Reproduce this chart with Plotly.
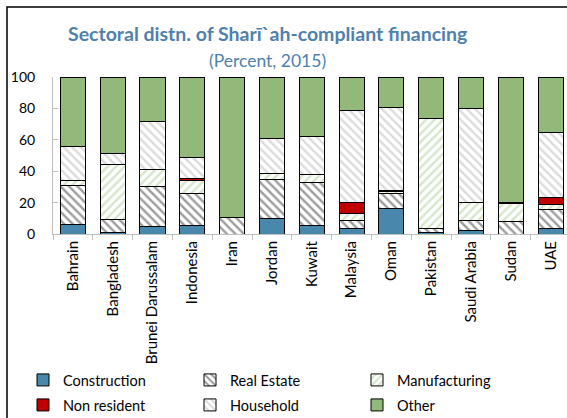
import plotly.graph_objects as go

countries = ["Bahrain", "Bangladesh", "Brunei Darussalam", "Indonesia", "Iran", "Jordan",
             "Kuwait", "Malaysia", "Oman", "Pakistan", "Saudi Arabia", "Sudan", "UAE"]

construction = [6.0, 1.0, 5.0, 5.5, 0.0, 10.0, 5.3, 3.8, 16.5, 0.8, 2.5, 0.0, 3.2]
real_estate  = [25.0, 8.0, 25.5, 20.5, 10.4, 25.0, 27.7, 4.9, 9.1, 3.0, 6.2, 8.0, 12.2]
manufacturing = [3.0, 35.5, 10.6, 8.2, 0.0, 3.6, 5.0, 4.2, 1.5, 69.8, 11.6, 11.2, 3.4]
non_resident = [0.0, 0.0, 0.0, 1.0, 0.0, 0.0, 0.0, 7.2, 0.9, 0.0, 0.0, 0.0, 4.2]
household    = [21.8, 6.6, 30.7, 13.3, 0.0, 22.0, 24.0, 58.5, 52.5, 0.0, 59.6, 0.9, 41.5]
other        = [44.2, 48.9, 28.2, 51.5, 89.6, 39.4, 38.0, 21.4, 19.5, 26.4, 20.1, 79.9, 35.5]

FONT = "Lato"
fig = go.Figure()

series = [
    ("Construction", construction, dict(color="#4A87AD"), "legend"),
    ("Real Estate", real_estate, dict(color="white", pattern=dict(shape="\\", fgcolor="#3A3A3A", bgcolor="white", size=6, solidity=0.4)), "legend"),
    ("Manufacturing", manufacturing, dict(color="white", pattern=dict(shape="/", fgcolor="#A9CC92", bgcolor="white", size=6, solidity=0.4)), "legend"),
    ("Non resident", non_resident, dict(color="#C00000"), "legend2"),
    ("Household", household, dict(color="white", pattern=dict(shape="\\", fgcolor="#B8B8B8", bgcolor="white", size=6, solidity=0.4)), "legend2"),
    ("Other", other, dict(color="#93B97A"), "legend2"),
]

for name, vals, mk, lg in series:
    marker = dict(mk)
    marker["line"] = dict(color="black", width=1)
    fig.add_trace(go.Bar(x=countries, y=vals, name=name, marker=marker, legend=lg))

legend_common = dict(orientation="h", x=(23 - 53) / 514, xanchor="left", yanchor="middle",
                     entrywidth=122, entrywidthmode="pixels", traceorder="normal",
                     font=dict(size=14.5, family=FONT), itemwidth=30, tracegroupgap=0,
                     bgcolor="rgba(0,0,0,0)")

fig.update_layout(
    barmode="stack",
    bargap=0.37,
    width=567, height=418,
    margin=dict(l=53, r=0, t=77, b=184, autoexpand=False),
    paper_bgcolor="white", plot_bgcolor="white",
    font=dict(family=FONT, color="black", size=13),
    showlegend=True,
    legend=dict(legend_common, y=(234 - 380) / 157),
    legend2=dict(legend_common, y=(234 - 405) / 157),
)

fig.update_xaxes(range=[-0.5, 12.41], tickangle=-90, showline=True, linecolor="#BFBFBF",
                 ticks="outside", tickson="boundaries", ticklen=5, tickcolor="#BFBFBF",
                 tickfont=dict(size=15), showgrid=False)
fig.update_yaxes(range=[0, 100], tickvals=[0, 20, 40, 60, 80, 100], showline=True,
                 linecolor="#BFBFBF", ticks="inside", ticklen=5, tickcolor="#BFBFBF",
                 ticklabelstandoff=14, tickfont=dict(size=14), showgrid=False, zeroline=False)

fig.add_annotation(text="<b>Sectoral distn. of Sharī`ah-compliant financing</b>",
                   xref="paper", yref="paper", x=(267 - 53) / 514, y=(234 - 33) / 157,
                   xanchor="center", yanchor="middle", showarrow=False,
                   font=dict(size=19.5, color="#4F81AD", family=FONT))
fig.add_annotation(text="(Percent, 2015)",
                   xref="paper", yref="paper", x=(267 - 53) / 514, y=(234 - 60) / 157,
                   xanchor="center", yanchor="middle", showarrow=False,
                   font=dict(size=17.5, color="#4F81AD", family=FONT))

fig.add_shape(type="rect", xref="paper", yref="paper",
              x0=(7 - 53) / 514, x1=1.2, y0=-1.5, y1=(234 - 7) / 157,
              line=dict(color="black", width=1.5), fillcolor="rgba(0,0,0,0)", layer="below")

fig.write_html("out.html", config={"displayModeBar": False},
               post_script="document.body.style.margin='0';document.body.style.overflow='hidden';")
